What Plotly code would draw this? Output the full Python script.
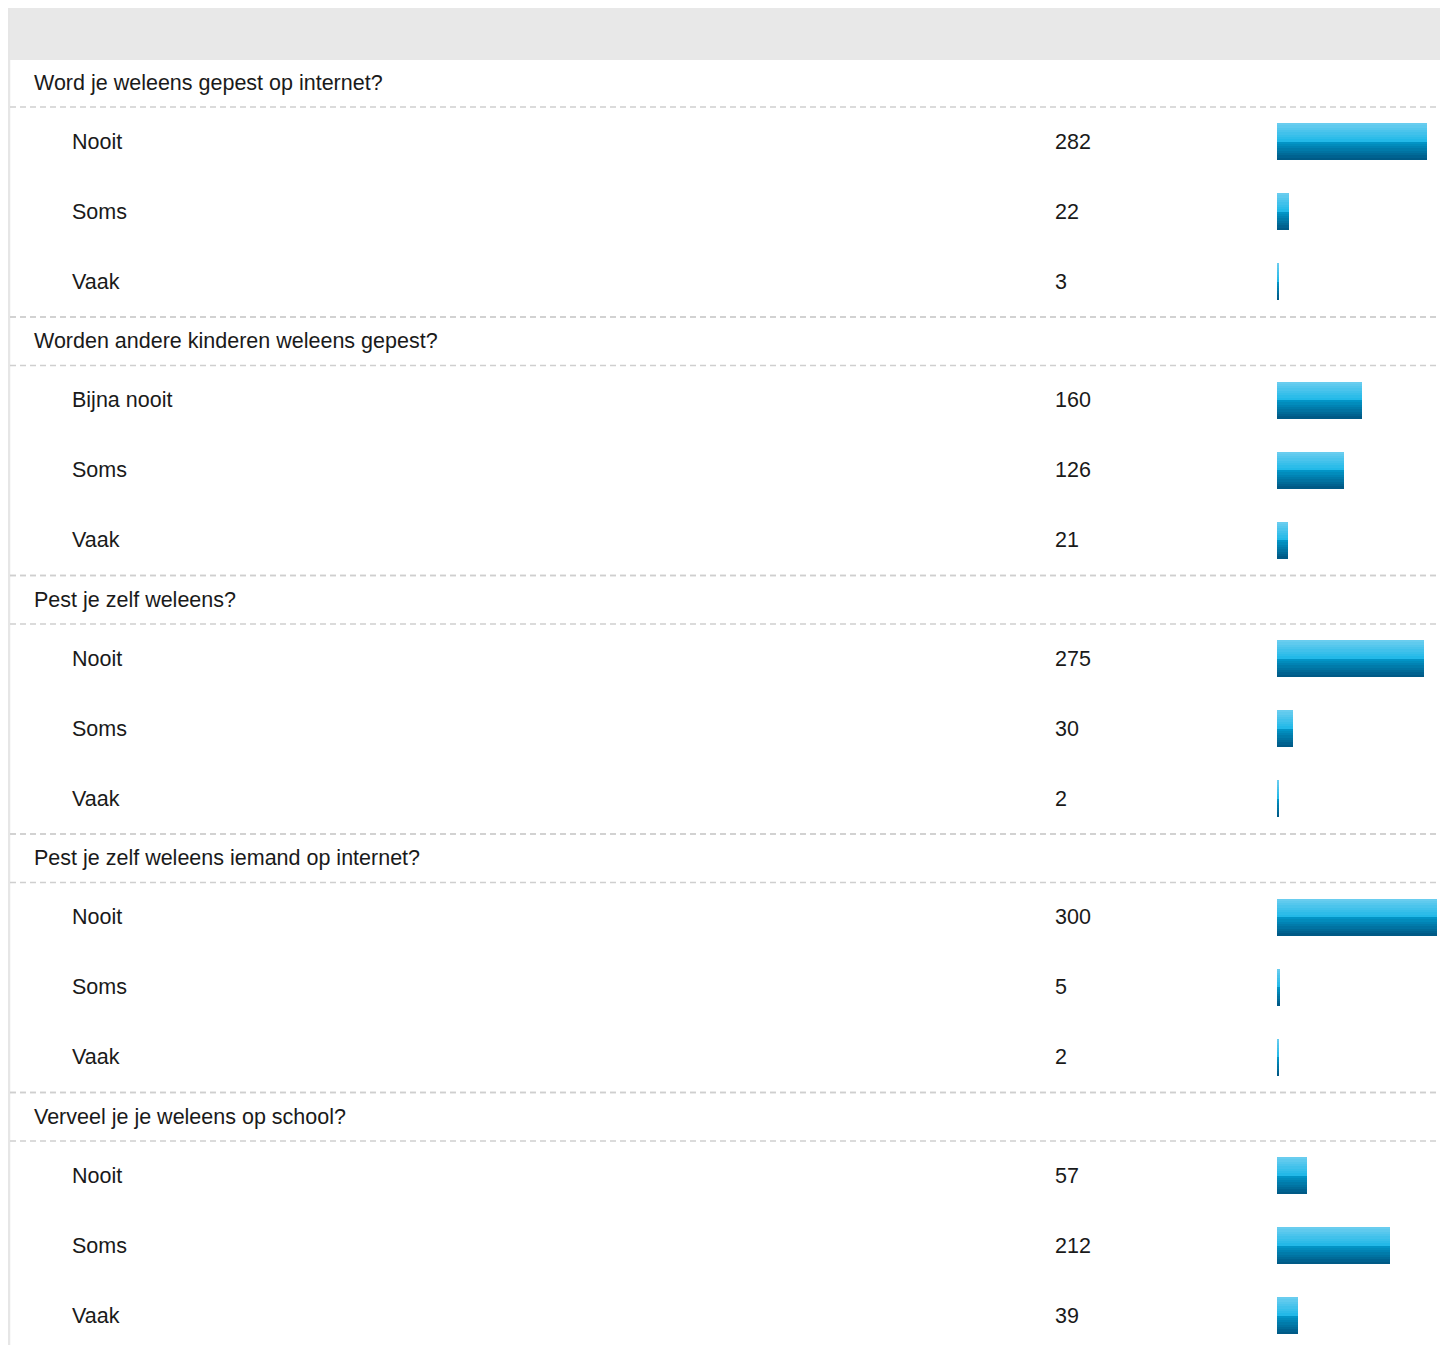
import plotly.graph_objects as go

# ---- data ----
questions = [
    "Word je weleens gepest op internet?",
    "Worden andere kinderen weleens gepest?",
    "Pest je zelf weleens?",
    "Pest je zelf weleens iemand op internet?",
    "Verveel je je weleens op school?",
]
answers = [
    ["Nooit", "Soms", "Vaak"],
    ["Bijna nooit", "Soms", "Vaak"],
    ["Nooit", "Soms", "Vaak"],
    ["Nooit", "Soms", "Vaak"],
    ["Nooit", "Soms", "Vaak"],
]
counts = [
    [282, 22, 3],
    [160, 126, 21],
    [275, 30, 2],
    [300, 5, 2],
    [57, 212, 39],
]

# ---- layout geometry (pixels, figure coordinates) ----
W, H = 1448, 1345
OFF = 8
G0 = 58.5 - OFF     # top of first group header row
HEADER_H = 48.5
ROW_H = 70.0
GROUP_H = HEADER_H + 3 * ROW_H
BAR_H = 37.0
BAR_DY = -0.5
TEXT_DY = 1.5
BAR_X0, BAR_X1 = 1277 - OFF, 1437 - OFF
BAR_MAX = 300
FONT = "Liberation Sans, Arial, Helvetica, sans-serif"
FS = 21.5
TXT = "#1a1a1a"
LINE = "#cfcfcf"
BORDER = "#e6e6e6"

q_y, item_y, item_lbl, item_val, sep_y = [], [], [], [], []
for gi, (q, ans, cnt) in enumerate(zip(questions, answers, counts)):
    top = G0 + gi * GROUP_H
    q_y.append(top + HEADER_H / 2)
    if gi > 0:
        sep_y.append(top)
    sep_y.append(top + HEADER_H)
    for ri, (a, c) in enumerate(zip(ans, cnt)):
        rt = top + HEADER_H + ri * ROW_H
        item_y.append(rt + ROW_H / 2)
        item_lbl.append(a)
        item_val.append(c)
    sep_y.append(top + HEADER_H + 3 * ROW_H)

fig = go.Figure()

tf = dict(family=FONT, size=FS, color=TXT)
fig.add_trace(go.Scatter(
    x=[34 - OFF] * len(questions), y=[v + TEXT_DY for v in q_y], text=questions,
    mode="text", textposition="middle right", textfont=tf,
    hoverinfo="skip", showlegend=False, xaxis="x", yaxis="y"))
fig.add_trace(go.Scatter(
    x=[72 - OFF] * len(item_lbl), y=[v + TEXT_DY for v in item_y], text=item_lbl,
    mode="text", textposition="middle right", textfont=tf,
    hoverinfo="skip", showlegend=False, xaxis="x", yaxis="y"))
fig.add_trace(go.Scatter(
    x=[1055 - OFF] * len(item_val), y=[v + TEXT_DY for v in item_y],
    text=[str(v) for v in item_val], mode="text", textposition="middle right",
    textfont=tf, hoverinfo="skip", showlegend=False, xaxis="x", yaxis="y"))

# gradient bars: stacked stripes
def lerp(c1, c2, t):
    return tuple(round(a + (b - a) * t) for a, b in zip(c1, c2))

stops = [(0.0, (110, 206, 240)), (0.49, (32, 184, 232)),
         (0.5, (2, 152, 202)), (1.0, (0, 86, 130))]
N = 16
sh = BAR_H / N
for k in range(N):
    t = (k + 0.5) / N
    for i in range(len(stops) - 1):
        if stops[i][0] <= t <= stops[i + 1][0]:
            tt = (t - stops[i][0]) / (stops[i + 1][0] - stops[i][0])
            col = lerp(stops[i][1], stops[i + 1][1], tt)
            break
    fig.add_trace(go.Bar(
        x=item_val, y=[v + BAR_DY for v in item_y], orientation="h",
        width=sh + 0.3, offset=-BAR_H / 2 + k * sh,
        marker=dict(color="rgb(%d,%d,%d)" % col, line=dict(width=0)),
        hoverinfo="skip", showlegend=False, xaxis="x2", yaxis="y"))

shapes = []
shapes.append(dict(type="rect", xref="x", yref="y", x0=0, x1=1435,
                   y0=0, y1=52, fillcolor="#e8e8e8", line=dict(width=0), layer="below"))
for xb in (1, 1433.5):
    shapes.append(dict(type="line", xref="x", yref="y", x0=xb, x1=xb,
                       y0=0, y1=H, line=dict(color=BORDER, width=2.5), layer="below"))
for y in sep_y:
    shapes.append(dict(type="line", xref="x", yref="y", x0=2, x1=1432,
                       y0=y, y1=y, line=dict(color=LINE, width=1.6, dash="6px,4px"),
                       layer="below"))

fig.update_layout(
    width=W, height=H, margin=dict(l=0, r=0, t=0, b=0),
    paper_bgcolor="white", plot_bgcolor="rgba(0,0,0,0)",
    barmode="overlay", bargap=0,
    xaxis=dict(range=[0, W], domain=[0, 1], visible=False, fixedrange=True),
    xaxis2=dict(range=[0, BAR_MAX], domain=[BAR_X0 / W, BAR_X1 / W], visible=False,
                anchor="y", fixedrange=True),
    yaxis=dict(range=[H, 0], domain=[0, 1], visible=False, fixedrange=True, anchor="x"),
    shapes=shapes, showlegend=False,
)

fig.write_html("out.html")
